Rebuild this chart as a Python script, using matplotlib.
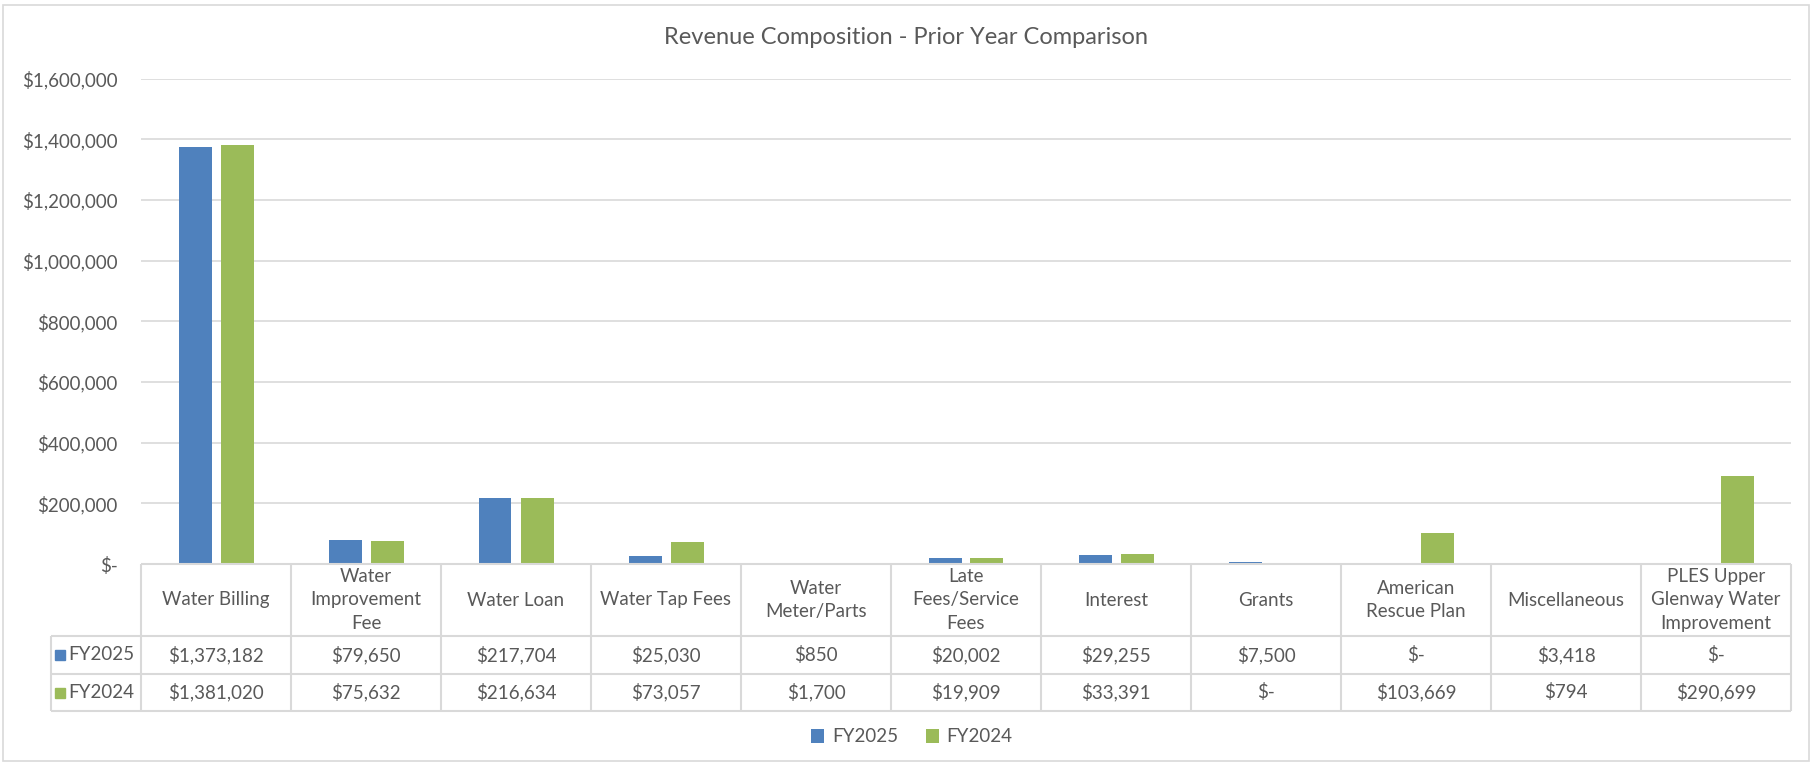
import numpy as np
import matplotlib
matplotlib.use("Agg")
import matplotlib.pyplot as plt
from matplotlib.patches import Rectangle
from matplotlib.ticker import FuncFormatter

plt.rcParams['font.family'] = ['Lato', 'DejaVu Sans']

categories = ["Water Billing", "Water\nImprovement\nFee", "Water Loan", "Water Tap Fees",
              "Water\nMeter/Parts", "Late\nFees/Service\nFees", "Interest", "Grants",
              "American\nRescue Plan", "Miscellaneous", "PLES Upper\nGlenway Water\nImprovement"]
fy2025 = [1373182, 79650, 217704, 25030, 850, 20002, 29255, 7500, 0, 3418, 0]
fy2024 = [1381020, 75632, 216634, 73057, 1700, 19909, 33391, 0, 103669, 794, 290699]
series_names = ["FY2025", "FY2024"]
yticks = np.arange(0, 1600001, 200000)

blue, green = "#4F81BD", "#9BBB59"
txt = "#595959"
grid = "#D9D9D9"
fs = 13.5


def money(v):
    return "$-" if v == 0 else "${:,.0f}".format(v)


W, H = 1812, 764
def rect(l, t, r, b):
    return [l / W, 1 - b / H, (r - l) / W, (b - t) / H]


fig = plt.figure(figsize=(W / 100, H / 100), dpi=100)
fig.patches.append(Rectangle((3 / W, 3 / H), 1 - 6 / W, 1 - 8 / H, transform=fig.transFigure,
                             fill=False, edgecolor=grid, linewidth=1.2))

ax = fig.add_axes(rect(141, 78.6, 1791, 564))
n = len(categories)
x = np.arange(n) + 0.5
b1 = ax.bar(x - 0.14, fy2025, 0.22, color=blue, label=series_names[0], zorder=3)
b2 = ax.bar(x + 0.14, fy2024, 0.22, color=green, label=series_names[1], zorder=3)
ax.set_xlim(0, n)
ax.set_ylim(0, 1600000)
ax.set_yticks(yticks)
ax.yaxis.set_major_formatter(FuncFormatter(lambda v, p: money(v)))
ax.tick_params(axis='y', length=0, pad=17, labelsize=fs, labelcolor=txt)
ax.set_xticks([])
ax.grid(axis='y', color=grid, linewidth=1.2, zorder=0)
for s in ax.spines.values():
    s.set_visible(False)
fig.text(0.5, 1 - 38 / H, "Revenue Composition - Prior Year Comparison", ha='center', va='center',
         fontsize=17, color=txt)

# data table under the axis
tax = fig.add_axes(rect(51, 564, 1791, 711))
left = -90 / 150
rows = [0, 72, 110, 147]
tax.set_xlim(left, n)
tax.set_ylim(rows[-1], rows[0])
tax.axis('off')
lw = 1.5
tax.hlines(rows[0], 0, n, color=grid, lw=lw, clip_on=False)
tax.hlines(rows[1:], left, n, color=grid, lw=lw, clip_on=False)
tax.vlines(np.arange(n + 1), rows[0], rows[-1], color=grid, lw=lw, clip_on=False)
tax.vlines(left, rows[1], rows[-1], color=grid, lw=lw, clip_on=False)

for i, c in enumerate(categories):
    tax.text(i + 0.5, (rows[0] + rows[1]) / 2, c, ha='center', va='center', fontsize=fs,
             color=txt, linespacing=1.45)
for r, (vals, col, name) in enumerate([(fy2025, blue, series_names[0]), (fy2024, green, series_names[1])]):
    yc = (rows[r + 1] + rows[r + 2]) / 2
    tax.plot(left + 0.058, yc, marker='s', markersize=7, color=col, clip_on=False)
    tax.text(left + 0.115, yc, name, ha='left', va='center', fontsize=fs, color=txt)
    for i, v in enumerate(vals):
        tax.text(i + 0.5, yc, money(v), ha='center', va='center', fontsize=fs, color=txt)

fig.legend(handles=[b1, b2], loc='center', bbox_to_anchor=(912 / W, 1 - 737 / H), ncol=2,
           frameon=False, handlelength=0.7, handleheight=0.7, handletextpad=0.4,
           columnspacing=1.5, fontsize=fs, labelcolor=txt)

fig.savefig("out.png", dpi=100)
